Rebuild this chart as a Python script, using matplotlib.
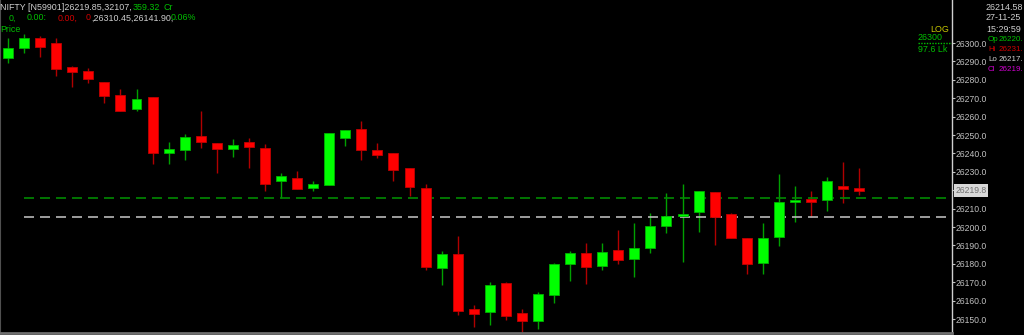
import matplotlib
matplotlib.use("Agg")
import matplotlib.pyplot as plt
import numpy as np

# candle data (one row per bar)
opens = [26292.0, 26297.4, 26302.6, 26300.0, 26286.8, 26284.8, 26279.0, 26271.6, 26264.0, 26270.8,
         26240.4, 26241.8, 26249.5, 26245.7, 26242.2, 26246.0, 26243.1, 26225.0, 26226.5, 26221.4,
         26222.8, 26248.5, 26253.1, 26241.8, 26240.1, 26232.2, 26221.4, 26177.6, 26185.2, 26155.3,
         26153.6, 26169.4, 26153.1, 26148.9, 26163.2, 26179.9, 26186.0, 26178.8, 26187.3, 26182.6,
         26188.6, 26200.7, 26205.8, 26208.2, 26219.2, 26206.9, 26193.8, 26180.3, 26194.7, 26213.4,
         26214.7, 26214.7, 26222.4, 26220.5]
highs = [26302.6, 26304.7, 26304.0, 26302.6, 26287.7, 26286.3, 26279.0, 26275.0, 26275.0, 26270.8,
         26246.4, 26250.5, 26263.0, 26245.7, 26247.7, 26248.2, 26244.9, 26229.2, 26230.6, 26225.0,
         26251.3, 26252.7, 26257.6, 26245.5, 26240.1, 26232.2, 26223.2, 26187.0, 26195.1, 26157.6,
         26170.3, 26170.3, 26155.3, 26164.8, 26180.6, 26187.0, 26191.1, 26191.1, 26198.4, 26202.0,
         26207.8, 26218.6, 26223.4, 26219.4, 26219.2, 26207.8, 26193.8, 26202.3, 26228.8, 26222.3,
         26219.6, 26227.3, 26235.2, 26231.9]
lows = [26289.3, 26294.4, 26292.2, 26282.2, 26276.3, 26278.4, 26267.6, 26263.2, 26263.2, 26234.2,
        26234.2, 26236.4, 26242.8, 26229.5, 26238.2, 26231.9, 26219.7, 26215.6, 26220.7, 26219.6,
        26222.8, 26244.0, 26236.4, 26237.3, 26225.0, 26216.8, 26176.6, 26168.5, 26152.2, 26145.8,
        26146.7, 26149.5, 26143.1, 26144.4, 26158.9, 26170.8, 26169.0, 26176.6, 26179.7, 26173.0,
        26186.0, 26196.9, 26181.1, 26197.4, 26190.2, 26193.8, 26174.5, 26174.5, 26189.8, 26202.9,
        26205.6, 26208.7, 26213.2, 26217.5]
closes = [26297.4, 26302.9, 26298.0, 26285.7, 26284.1, 26280.3, 26271.2, 26263.2, 26269.7, 26240.1,
          26242.6, 26248.8, 26246.4, 26242.2, 26244.6, 26243.6, 26223.4, 26227.9, 26220.7, 26223.2,
          26251.3, 26252.7, 26241.8, 26239.1, 26231.0, 26221.9, 26178.4, 26185.2, 26154.3, 26152.9,
          26168.7, 26151.8, 26148.9, 26163.6, 26179.7, 26186.0, 26178.1, 26186.4, 26182.1, 26188.6,
          26200.7, 26205.8, 26207.1, 26219.4, 26205.6, 26193.8, 26179.9, 26193.8, 26213.8, 26214.7,
          26213.8, 26224.8, 26220.7, 26219.8]

green_level = 26215.6
white_level = 26205.6
last_price = 26219.8
yticks = list(range(26150, 26301, 10))
hidden_tick = 26220  # covered by the last-price tag

o = np.array(opens); h = np.array(highs); l = np.array(lows); c = np.array(closes)
x = np.arange(len(o))
up = c >= o

W, H = 1024, 335
fig = plt.figure(figsize=(W / 100, H / 100), dpi=100, facecolor="black")
ax = fig.add_axes([0, 2 / H, 952 / W, 333 / H])
ax.set_facecolor("black")
y0, y1 = 26142.4, 26323.4

# wicks then bodies
ax.vlines(x[up], l[up], h[up], color="#00a000", lw=1)
ax.vlines(x[~up], l[~up], h[~up], color="#b00000", lw=1)
bot = np.minimum(o, c)
hgt = np.maximum(np.abs(c - o), 1.3)
ax.bar(x[up], hgt[up], bottom=bot[up], width=0.62, color="#00ff00", edgecolor="#00b000", lw=0.6, zorder=3)
ax.bar(x[~up], hgt[~up], bottom=bot[~up], width=0.62, color="#ff0000", edgecolor="#c00000", lw=0.6, zorder=3)

x_end = (948 - 8) / 16.06
ax.hlines(green_level, 1, x_end, color="#008a00", lw=1.2, linestyles=(0, (6, 3.6)), zorder=2)
ax.hlines(white_level, 1, x_end, color="#b8b8b8", lw=1.2, linestyles=(0, (6, 3.6)), zorder=2)

ax.set_xlim(-0.5, (952 - 8) / 16.06)
ax.set_ylim(y0, y1)
ax.set_xticks([])
ax.yaxis.tick_right()
ax.set_yticks(yticks)
ax.set_yticklabels(["" if v == hidden_tick else f"{v:.1f}" for v in yticks])
ax.tick_params(axis="y", colors="#c0c0c0", labelsize=6.2, length=2, width=0.8, pad=0.5)
for lab in ax.get_yticklabels():
    lab.set_family("Liberation Sans")
ax.spines["top"].set_visible(False)
ax.spines["right"].set_color("#d0d0d0")
ax.spines["right"].set_linewidth(1)
ax.spines["left"].set_color("#505050")
ax.spines["bottom"].set_color("#707070")
ax.spines["bottom"].set_linewidth(2)

# current price tag
ax.text(1.0035, (last_price - y0) / (y1 - y0), f"{last_price:.1f}", transform=ax.transAxes,
        ha="left", va="center", fontsize=6.2, family="Liberation Sans", color="#707070",
        bbox=dict(boxstyle="square,pad=0.2", fc="#d8d8d8", ec="none"), clip_on=False)

# header texts, figure pixel coords
FS = 6.4
def ftxt(px, py, s, col, fs=FS, **kw):
    return fig.text(px / W, 1 - py / H, s, color=col, fontsize=fs, family="Liberation Sans", va="center", **kw)

gray = "#d0d0d0"
grn = "#00c000"
red = "#d00000"
ftxt(0, 7, "NIFTY [N59901]26219.85,32107,", gray)
ftxt(133, 7, "359.32", grn)
ftxt(163, 7, "Cr", grn)
ftxt(9, 18, "0,", grn)
ftxt(27, 18, "0.00:", grn)
ftxt(58, 18, "0.00,", red)
t0 = ftxt(86, 18, "0", red)
fig.canvas.draw()
x_after = t0.get_window_extent().x1
ftxt(x_after, 18, ",26310.45,26141.90,", gray)
ftxt(171, 18, "0.06%", grn)
ftxt(0, 29, "Price", grn)

ftxt(949, 29, "LOG", "#c8c800", ha="right")
ftxt(918, 37, "26300", grn)
ftxt(918, 49, "97.6 Lk", grn)
ax.plot([918 / 952, 1.0], [(26300 - y0) / (y1 - y0)] * 2, transform=ax.transAxes,
        color=grn, lw=1, ls=(0, (1, 1)), clip_on=False)

ftxt(986, 7, "26214.58", gray)
ftxt(986, 18, "27-11-25", gray)
ftxt(986, 29, "15:29:59", gray)
ohlc_rows = [("Op", "26220.", grn), ("Hi", "26231.", red), ("Lo", "26217.", gray), ("Cl", "26219.", "#d000d0")]
for i, (k, v, col) in enumerate(ohlc_rows):
    ftxt(988, 39.5 + 10 * i, k, col, fs=5.8)
    ftxt(999, 39.5 + 10 * i, v, col, fs=5.8)

fig.savefig("out.png", dpi=100, facecolor="black")
